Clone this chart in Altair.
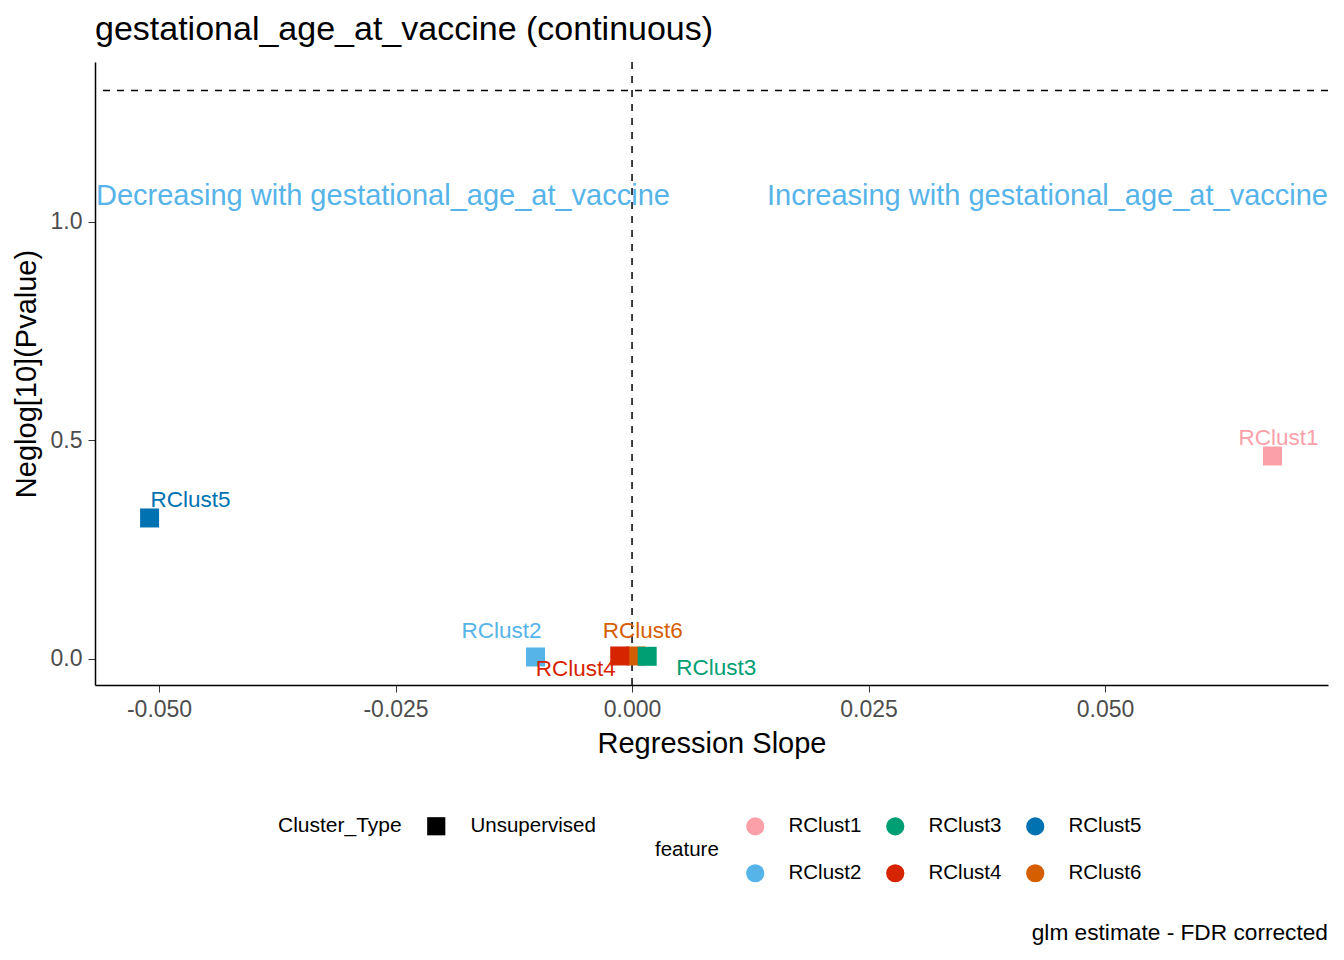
import altair as alt
import pandas as pd

features = ["RClust1", "RClust2", "RClust6", "RClust4", "RClust3", "RClust5"]
slopes = [0.0677, -0.0102, 0.0004, -0.0013, 0.0016, -0.0510]
neglog_p = [0.4645, 0.0046, 0.0069, 0.0069, 0.0062, 0.3227]
cluster_type = ["Unsupervised"] * 6

legend_order = ["RClust1", "RClust2", "RClust3", "RClust4", "RClust5", "RClust6"]
palette = ["#FB9FA8", "#56B4E9", "#009E73", "#D62300", "#0072B2", "#D55E00"]

annot_text = ["Decreasing with gestational_age_at_vaccine", "Increasing with gestational_age_at_vaccine"]
annot_side = ["left", "right"]
annot_y = [1.06, 1.06]

x_domain = [-0.05677, 0.07357]
y_domain = [-0.0595, 1.366]
sig_line = [1.30103]

FONT = "Liberation Sans"

df = pd.DataFrame({"feature": features, "slope": slopes, "neglog": neglog_p,
                   "Cluster_Type": cluster_type})

xs = alt.Scale(domain=x_domain, nice=False, zero=False)
ys = alt.Scale(domain=y_domain, nice=False, zero=False)

x_axis = alt.Axis(values=[-0.05, -0.025, 0, 0.025, 0.05], format=".3f", title="Regression Slope",
                  labelExpr="replace(datum.label, '\u2212', '-')",
                  labelFont=FONT, titleFont=FONT,
                  grid=False, labelFontSize=23, labelColor="#4D4D4D", titleFontSize=29,
                  titleFontWeight="normal", titleColor="black", tickSize=7, tickColor="#333333",
                  domainColor="black", domainWidth=1.5, labelPadding=6, titlePadding=8)
y_axis = alt.Axis(values=[0, 0.5, 1.0], format=".1f", title="Neglog[10](Pvalue)",
                  labelFont=FONT, titleFont=FONT,
                  grid=False, labelFontSize=23, labelColor="#4D4D4D", titleFontSize=29,
                  titleFontWeight="normal", titleColor="black", tickSize=7, tickColor="#333333",
                  domainColor="black", domainWidth=1.5, labelPadding=6, titlePadding=9)

points = alt.Chart(df).mark_point(filled=True, opacity=1, size=361).encode(
    x=alt.X("slope:Q", scale=xs, axis=x_axis),
    y=alt.Y("neglog:Q", scale=ys, axis=y_axis),
    color=alt.Color("feature:N", scale=alt.Scale(domain=legend_order, range=palette),
                    legend=alt.Legend(title="feature", orient="none", legendX=560, legendY=754,
                                      columns=3, titleOrient="left", titleAnchor="middle",
                                      titleBaseline="middle",
                                      symbolType="circle", symbolSize=330, symbolOpacity=1,
                                      symbolStrokeWidth=0,
                                      labelFontSize=20.5, titleFontSize=20.5, titleFontWeight="normal",
                                      labelOffset=23, columnPadding=23, rowPadding=26,
                                      titlePadding=26, labelFont=FONT, titleFont=FONT)),
    shape=alt.Shape("Cluster_Type:N", scale=alt.Scale(range=["square"]),
                    legend=alt.Legend(title="Cluster_Type", orient="none", legendX=183, legendY=754,
                                      titleOrient="left", titleBaseline="middle",
                                      symbolFillColor="black", symbolStrokeWidth=0,
                                      symbolSize=330, symbolOpacity=1,
                                      labelFontSize=20.5, titleFontSize=21, titleFontWeight="normal",
                                      labelOffset=24, titlePadding=24, labelFont=FONT,
                                      titleFont=FONT)),
)

hline = alt.Chart(pd.DataFrame({"y": sig_line})).mark_rule(
    color="black", strokeDash=[7, 7], strokeWidth=1.5).encode(y=alt.Y("y:Q", scale=ys))
vline = alt.Chart(pd.DataFrame({"x": [0.0]})).mark_rule(
    color="black", strokeDash=[7, 7], strokeWidth=1.5).encode(x=alt.X("x:Q", scale=xs))

label_offsets = {
    "RClust1": (6, -18), "RClust2": (-34, -26), "RClust6": (7, -25),
    "RClust4": (-44, 13), "RClust3": (69, 12), "RClust5": (41, -18),
}
label_layers = []
for f, c in zip(legend_order, palette):
    dx, dy = label_offsets[f]
    label_layers.append(
        alt.Chart(df).transform_filter(alt.datum.feature == f).mark_text(
            fontSize=22.5, font=FONT, color=c, dx=dx, dy=dy, align="center", baseline="middle"
        ).encode(x=alt.X("slope:Q", scale=xs), y=alt.Y("neglog:Q", scale=ys), text="feature:N")
    )

annot_df = pd.DataFrame({"text": annot_text, "side": annot_side, "y": annot_y})
annot_left = alt.Chart(annot_df).transform_filter(alt.datum.side == "left").mark_text(
    fontSize=29, font=FONT, color="#56B4E9", align="left", baseline="middle", dx=1
).encode(x=alt.value(0), y=alt.Y("y:Q", scale=ys), text="text:N")
annot_right = alt.Chart(annot_df).transform_filter(alt.datum.side == "right").mark_text(
    fontSize=29, font=FONT, color="#56B4E9", align="right", baseline="middle"
).encode(x=alt.value(1233), y=alt.Y("y:Q", scale=ys), text="text:N")

caption = alt.Chart(pd.DataFrame({"t": ["glm estimate - FDR corrected"]})).mark_text(
    fontSize=22.7, font=FONT, color="black", align="right", baseline="middle"
).encode(x=alt.value(1233), y=alt.value(871), text="t:N")

chart = alt.layer(hline, vline, annot_left, annot_right, points, *label_layers, caption).properties(
    width=1233, height=623,
    title=alt.TitleParams("gestational_age_at_vaccine (continuous)", anchor="start", frame="group",
                          fontSize=34, font=FONT, fontWeight="normal", color="black",
                          offset=14),
    autosize=alt.AutoSizeParams(type="none"),
    padding={"left": 87, "top": 54, "right": 8, "bottom": 267},
).configure_view(stroke=None, strokeWidth=0)

chart.save("out.html", embed_options={"renderer": "svg", "actions": False})
